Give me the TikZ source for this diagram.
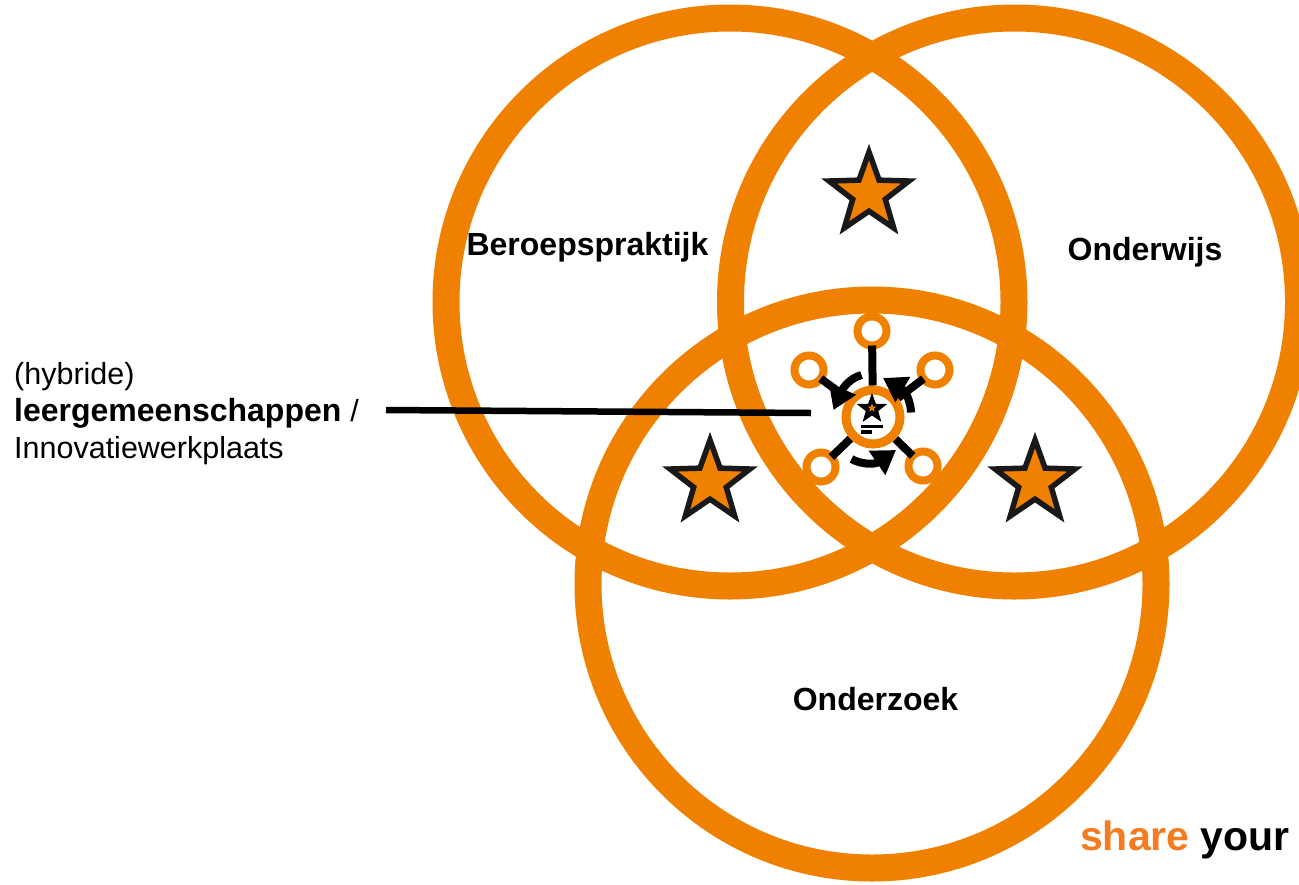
\documentclass[tikz,border=0pt]{standalone}
\usepackage{fontspec}
\setmainfont{Liberation Sans}
\usetikzlibrary{arrows.meta,shapes.geometric}
\definecolor{ringorange}{HTML}{F08000}
\definecolor{shareorange}{HTML}{F47B20}
\tikzset{ring/.style={circle, draw=ringorange, line width=27pt, minimum size=568pt, inner sep=0pt, outer sep=0pt},
hubring/.style={circle, draw=ringorange, line width=9pt, minimum size=54pt, inner sep=0pt, outer sep=4.5pt},
smallring/.style={circle, draw=ringorange, fill=white, line width=8pt, minimum size=29pt, inner sep=0pt, outer sep=0pt},
bigstar/.style={star, star points=5, star point ratio=2.45, draw=black!90, fill=ringorange, line width=5.5pt, minimum size=84pt, inner sep=0pt, outer sep=0pt},
spoke/.style={black, line width=8pt},
turn/.style={black, line width=8pt, -{Triangle[length=23pt,width=28pt]}},
venntitle/.style={font=\fontsize{32}{38}\selectfont\bfseries, inner sep=0pt}}
\begin{document}
\begin{tikzpicture}[x=1pt,y=-1pt]
  \useasboundingbox (0,0) rectangle (1299,884);

  \node[ring] at (730,302) (left) {};
  \node[ring] at (1014.5,302) (right) {};
  \node[ring] at (872,584) (bottom) {};

  \node[venntitle] at (587.5,247) (t1) {Beroepspraktijk};
  \node[venntitle] at (1145,252) (t2) {Onderwijs};
  \node[venntitle] at (875.5,699) (t3) {Onderzoek};

  \node[bigstar] at (869,194) (s1) {};
  \node[bigstar] at (710,482) (s2) {};
  \node[bigstar] at (1035,482) (s3) {};

  % hub with its five spokes
  \node[hubring] at (873,417) (hub) {};
  \node[smallring] at (872,331) (p1) {};
  \node[smallring] at (809,370) (p2) {};
  \node[smallring] at (935,370) (p3) {};
  \node[smallring] at (821,467) (p4) {};
  \node[smallring] at (923,466) (p5) {};
  \draw[spoke] (hub) -- (p1);
  \draw[spoke] (hub) -- (p2);
  \draw[spoke] (hub) -- (p3);
  \draw[spoke] (hub) -- (p4);
  \draw[spoke] (hub) -- (p5);

  \node[star, star points=5, star point ratio=2.45, fill=black, minimum size=32pt, inner sep=0pt] at (872,409) (s4) {};
  \node[star, star points=5, star point ratio=2.45, fill=ringorange, minimum size=9pt, inner sep=0pt] at (872,408) (s5) {};
  \fill[black] (861,424.5) rectangle (883,428);
  \fill[black] (861,430) rectangle (872,434);

  % turning arrows
  \coordinate (a1) at (861.5,375);
  \coordinate (a2) at (833.5,410);
  \coordinate (b1) at (911,412.5);
  \coordinate (b2) at (883,378);
  \coordinate (c1) at (851.5,459);
  \coordinate (c2) at (896,450);
  \draw[turn] (a1) .. controls (850,378) and (843,388) .. (a2);
  \draw[turn] (b1) .. controls (911,405) and (907,392) .. (b2);
  \draw[turn] (c1) .. controls (860,464) and (874,465) .. (c2);

  \node[anchor=west, font=\fontsize{30.5}{37}\selectfont, align=left, inner sep=0pt] at (14,414) (label) {(hybride)\\\fontsize{32}{37}\selectfont\textbf{leergemeenschappen} \fontsize{30.5}{37}\selectfont/\\Innovatiewerkplaats};

  \coordinate (lead1) at (386,410);
  \coordinate (lead2) at (811,413);
  \draw[black, line width=6.5pt] (lead1) -- (lead2);

  \node[anchor=base east, font=\fontsize{41}{48}\selectfont\bfseries, inner sep=0pt] at (1290,850) (brand) {\textcolor{shareorange}{share} your};
\end{tikzpicture}
\end{document}
